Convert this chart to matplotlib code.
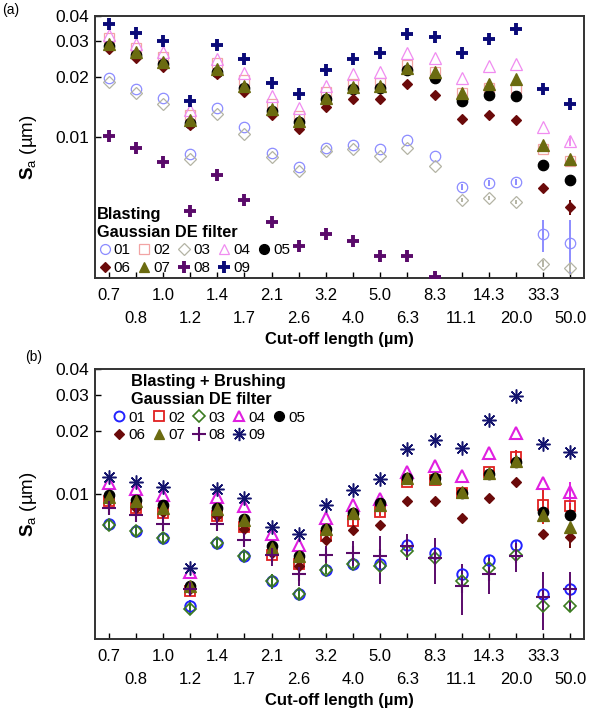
import numpy as np
import matplotlib
matplotlib.use("Agg")
import matplotlib.pyplot as plt
from matplotlib.lines import Line2D

plt.rcParams['font.family'] = ['Liberation Sans', 'DejaVu Sans']
plt.rcParams['mathtext.fontset'] = 'custom'
plt.rcParams['mathtext.rm'] = 'Liberation Sans'
plt.rcParams['mathtext.bf'] = 'Liberation Sans:bold'

cutoff = ['0.7', '0.8', '1.0', '1.2', '1.4', '1.7', '2.1', '2.6', '3.2', '4.0',
          '5.0', '6.3', '8.3', '11.1', '14.3', '20.0', '33.3', '50.0']
series_names = ['01', '02', '03', '04', '05', '06', '07', '08', '09']
nan = np.nan

# ---- Panel (a): Blasting ----
a_01 = [0.0197, 0.0173, 0.0156, 0.00825, 0.0139, 0.0112, 0.00837, 0.0071, 0.0088,
        0.0091, 0.0087, 0.0097, 0.00804, 0.00567, 0.00593, 0.0060, 0.00329, 0.0030]
a_02 = [0.0310, 0.0276, 0.0251, 0.0129, 0.0233, 0.0192, 0.0147, 0.0127, 0.0168,
        0.0184, 0.0186, 0.0228, 0.0212, 0.0165, 0.0175, 0.0175, 0.0087, 0.0076]
a_03 = [0.0187, 0.0165, 0.0146, 0.00776, 0.0131, 0.0104, 0.0080, 0.0068, 0.0085,
        0.0087, 0.0081, 0.0088, 0.00718, 0.00488, 0.0050, 0.00477, 0.00236, 0.00225]
a_04 = [0.0322, 0.0292, 0.0266, 0.0136, 0.0246, 0.0208, 0.0160, 0.0139, 0.0180,
        0.0205, 0.0210, 0.0261, 0.0248, 0.0197, 0.0225, 0.0231, 0.0112, 0.0096]
a_05 = [0.0285, 0.0256, 0.0230, 0.0118, 0.0212, 0.0176, 0.0135, 0.0119, 0.0154,
        0.0173, 0.0176, 0.0216, 0.0197, 0.0152, 0.0163, 0.0161, 0.0073, 0.0061]
a_06 = [0.0274, 0.0248, 0.0222, 0.0115, 0.0205, 0.0168, 0.0129, 0.0110, 0.0141,
        0.0154, 0.0154, 0.0184, 0.0162, 0.0123, 0.0129, 0.0122, 0.0056, 0.0045]
a_07 = [0.0292, 0.0266, 0.0237, 0.0122, 0.0217, 0.0180, 0.0138, 0.0121, 0.0157,
        0.0177, 0.0180, 0.0220, 0.0210, 0.0165, 0.0184, 0.0194, 0.0091, 0.0078]
a_08 = [0.0102, 0.0088, 0.00756, 0.00428, 0.0065, 0.00488, 0.0038, 0.0029, 0.0033,
        0.00305, 0.00257, 0.00257, 0.00202, nan, nan, nan, nan, nan]
a_09 = [0.0365, 0.0328, 0.0302, 0.0152, 0.0287, 0.0244, 0.0185, 0.0164, 0.0216,
        0.0246, 0.0261, 0.0326, 0.0316, 0.0261, 0.0306, 0.0343, 0.0173, 0.0146]
a_err_01 = [0, 0, 0, 0, 0, 0, 0, 0, 0, 0, 0, 0, 0, 0.0002, 0.0002, 0.0002, 0.0006, 0.0009]
a_err_03 = [0, 0, 0, 0, 0, 0, 0, 0, 0, 0, 0, 0, 0, 0.0001, 0.0001, 0.0001, 0.0001, 0.0001]
a_err_04 = [0, 0, 0, 0, 0, 0, 0, 0, 0, 0, 0, 0, 0, 0, 0, 0, 0, 0.0006]
a_err_06 = [0, 0, 0, 0, 0, 0, 0, 0, 0, 0, 0, 0, 0, 0, 0, 0, 0, 0.0004]

# ---- Panel (b): Blasting + Brushing ----
b_01 = [0.0072, 0.0066, 0.0061, 0.0029, 0.0058, 0.0050, 0.0038, 0.0033, 0.0043,
        0.0046, 0.0046, 0.0057, 0.0052, 0.0041, 0.0048, 0.0057, 0.0033, 0.0035]
b_02 = [0.0092, 0.0086, 0.0081, 0.0034, 0.0078, 0.0069, 0.0051, 0.0046, 0.0063,
        0.0074, 0.0082, 0.0114, 0.0117, 0.0101, 0.0127, 0.0150, 0.0088, 0.0087]
b_03 = [0.0071, 0.0066, 0.0061, 0.0028, 0.0058, 0.0050, 0.0038, 0.0033, 0.0043,
        0.0046, 0.0045, 0.0053, 0.0049, 0.0038, 0.0044, 0.0051, 0.0029, 0.0029]
b_04 = [0.0113, 0.0106, 0.0099, 0.0042, 0.0097, 0.0087, 0.0064, 0.0057, 0.0077,
        0.0088, 0.0095, 0.0128, 0.0137, 0.0122, 0.0158, 0.0196, 0.0113, 0.0102]
b_05 = [0.0099, 0.0093, 0.0088, 0.0036, 0.0086, 0.0076, 0.0056, 0.0050, 0.0068,
        0.0081, 0.0090, 0.0119, 0.0120, 0.0101, 0.0125, 0.0143, 0.0082, 0.0079]
b_06 = [0.0094, 0.0086, 0.0082, 0.0035, 0.0078, 0.0068, 0.0052, 0.0045, 0.0060,
        0.0067, 0.0071, 0.0092, 0.0092, 0.0077, 0.0096, 0.0114, 0.0064, 0.0062]
b_07 = [0.0097, 0.0092, 0.0086, 0.0036, 0.0085, 0.0075, 0.0055, 0.0050, 0.0068,
        0.0081, 0.0088, 0.0119, 0.0120, 0.0102, 0.0126, 0.0144, 0.0079, 0.0069]
b_08 = [0.0086, 0.0079, 0.0072, 0.0035, 0.0072, 0.0060, 0.0051, 0.0041, 0.0051,
        0.0052, 0.0050, 0.0056, 0.0049, 0.0036, 0.0041, 0.0050, 0.0032, 0.0035]
b_09 = [0.0121, 0.0114, 0.0108, 0.0044, 0.0106, 0.0096, 0.0069, 0.0064, 0.0088,
        0.0105, 0.0118, 0.0164, 0.0182, 0.0167, 0.0226, 0.0297, 0.0175, 0.0160]
b_err_01 = [0.0003, 0.0003, 0.0003, 0.0002, 0.0003, 0.0003, 0.0003, 0.0002, 0.0002,
            0.0002, 0.0002, 0.0002, 0.0002, 0.0002, 0.0002, 0.0002, 0.0002, 0.0002]
b_err_02 = [0, 0, 0, 0, 0, 0, 0, 0, 0, 0.0004, 0.0004, 0.0004, 0.0004, 0.0003,
            0.0005, 0.0012, 0.0016, 0.0010]
b_err_04 = [0, 0, 0, 0, 0, 0, 0, 0, 0, 0, 0, 0, 0, 0, 0, 0, 0, 0.0012]
b_err_06 = [0, 0, 0, 0, 0, 0, 0, 0, 0, 0, 0, 0, 0, 0, 0, 0, 0, 0.0007]
b_err_08 = [0.0004, 0.0004, 0.0004, 0.0002, 0.0004, 0.0004, 0.0006, 0.0005, 0.0005,
            0.0007, 0.0013, 0.0008, 0.0012, 0.0010, 0.0008, 0.0008, 0.0010, 0.0007]

style_a = {
    '01': dict(marker='o', mfc='none', mec='#8c8cff', ms=7.5, mew=0.9),
    '02': dict(marker='s', mfc='none', mec='#f2a4a4', ms=7.5, mew=0.9),
    '03': dict(marker='D', mfc='none', mec='#b4b4a4', ms=6, mew=0.9),
    '04': dict(marker='^', mfc='none', mec='#f08cf0', ms=8, mew=0.9),
    '05': dict(marker='o', mfc='black', mec='black', ms=7.5, mew=0.9),
    '06': dict(marker='D', mfc='#6b0a0a', mec='#6b0a0a', ms=5.5, mew=0.9),
    '07': dict(marker='^', mfc='#6b6b10', mec='#6b6b10', ms=8, mew=0.9),
    '08': dict(marker='+', mfc='none', mec='#5a0a6a', ms=9, mew=2.8),
    '09': dict(marker='+', mfc='none', mec='#0a0a78', ms=9, mew=2.8),
}
style_b = {
    '01': dict(marker='o', mfc='none', mec='#2222ff', ms=7.5, mew=1.4),
    '02': dict(marker='s', mfc='none', mec='#e02020', ms=7.5, mew=1.3),
    '03': dict(marker='D', mfc='none', mec='#3a7a20', ms=6, mew=1.2),
    '04': dict(marker='^', mfc='none', mec='#e020e0', ms=8, mew=1.5),
    '05': dict(marker='o', mfc='black', mec='black', ms=7.5, mew=0.9),
    '06': dict(marker='D', mfc='#6b0a0a', mec='#6b0a0a', ms=5.5, mew=0.9),
    '07': dict(marker='^', mfc='#6b6b10', mec='#6b6b10', ms=8, mew=0.9),
    '08': dict(marker='+', mfc='none', mec='#5a0a6a', ms=10, mew=1.5),
    '09': dict(marker=(8, 2, 0), mfc='none', mec='#14146e', ms=10, mew=1.1),
}

a_data = [a_01, a_02, a_03, a_04, a_05, a_06, a_07, a_08, a_09]
a_errs = [a_err_01, None, a_err_03, a_err_04, None, a_err_06, None, None, None]
b_data = [b_01, b_02, b_03, b_04, b_05, b_06, b_07, b_08, b_09]
b_errs = [b_err_01, b_err_02, b_err_01, b_err_04, None, b_err_06, None, b_err_08, None]

W, H = 607, 715
fig = plt.figure(figsize=(W / 100, H / 100), dpi=100)

def make_ax(top_px, bot_px):
    left, right = 95, 584
    return fig.add_axes([left / W, 1 - bot_px / H, (right - left) / W, (bot_px - top_px) / H])

ax_a = make_ax(16, 278)
ax_b = make_ax(369, 639)

x = np.arange(len(cutoff))

def draw(ax, datas, errs, styles, title, title_align, legend_kw):
    handles = []
    for name, vals, err in zip(series_names, datas, errs):
        st = styles[name]
        col = st['mec']
        if err is not None:
            ax.errorbar(x, vals, yerr=err, fmt='none', ecolor=col, elinewidth=1.4,
                        capsize=0, zorder=2)
        ax.plot(x, vals, linestyle='none', marker=st['marker'], markerfacecolor=st['mfc'],
                markeredgecolor=col, markersize=st['ms'], markeredgewidth=st['mew'], zorder=3)
        handles.append(Line2D([], [], linestyle='none', marker=st['marker'],
                              markerfacecolor=st['mfc'], markeredgecolor=col,
                              markersize=st['ms'] * 0.95, markeredgewidth=st['mew']))
    ax.set_yscale('log')
    ax.set_ylim(0.002, 0.04)
    ax.set_xlim(-0.5, len(cutoff) - 0.5)
    ax.set_yticks([0.01, 0.02, 0.03, 0.04])
    ax.set_yticklabels(['0.01', '0.02', '0.03', '0.04'], fontsize=12.5)
    ax.yaxis.set_minor_locator(matplotlib.ticker.NullLocator())
    ax.set_xticks(x[::2], [cutoff[i] for i in x[::2]], fontsize=12)
    ax.set_xticks(x[1::2], [cutoff[i] for i in x[1::2]], minor=True, fontsize=12)
    ax.tick_params(axis='x', which='major', direction='in', length=4, width=1, pad=7)
    ax.tick_params(axis='x', which='minor', direction='in', length=4, width=1, pad=24)
    ax.tick_params(axis='y', which='major', direction='in', length=4, width=1, pad=4)
    for s in ax.spines.values():
        s.set_linewidth(1.4)
        s.set_color('#333333')
    ax.set_xlabel('Cut-off length (µm)', fontsize=12, fontweight='bold', labelpad=4)
    ax.set_ylabel(r'$\mathbf{S}_\mathrm{a}$ (µm)', fontsize=13.5)
    ax.yaxis.set_label_coords(-0.115, 0.5)
    order = [0, 5, 1, 6, 2, 7, 3, 8, 4]
    leg = ax.legend([handles[i] for i in order], [series_names[i] for i in order],
                    ncol=5, frameon=False, fontsize=11, title=title,
                    title_fontproperties={'weight': 'bold', 'size': 11.8},
                    alignment=title_align, handletextpad=0.1, columnspacing=0.4,
                    handlelength=1.0, labelspacing=0.25, borderpad=0.2, **legend_kw)
    leg.set_zorder(5)
    return ax

draw(ax_a, a_data, a_errs, style_a, 'Blasting\nGaussian DE filter', 'left',
     dict(loc='lower left', bbox_to_anchor=(-0.018, -0.03)))
draw(ax_b, b_data, b_errs, style_b, 'Blasting + Brushing\nGaussian DE filter', 'center',
     dict(loc='upper left', bbox_to_anchor=(0.012, 1.02)))

fig.text(2 / W, 1 - 10 / H, '(a)', fontsize=10, va='center', ha='left')
fig.text(25 / W, 1 - 357 / H, '(b)', fontsize=10, va='center', ha='left')

fig.savefig('out.png', dpi=100)
